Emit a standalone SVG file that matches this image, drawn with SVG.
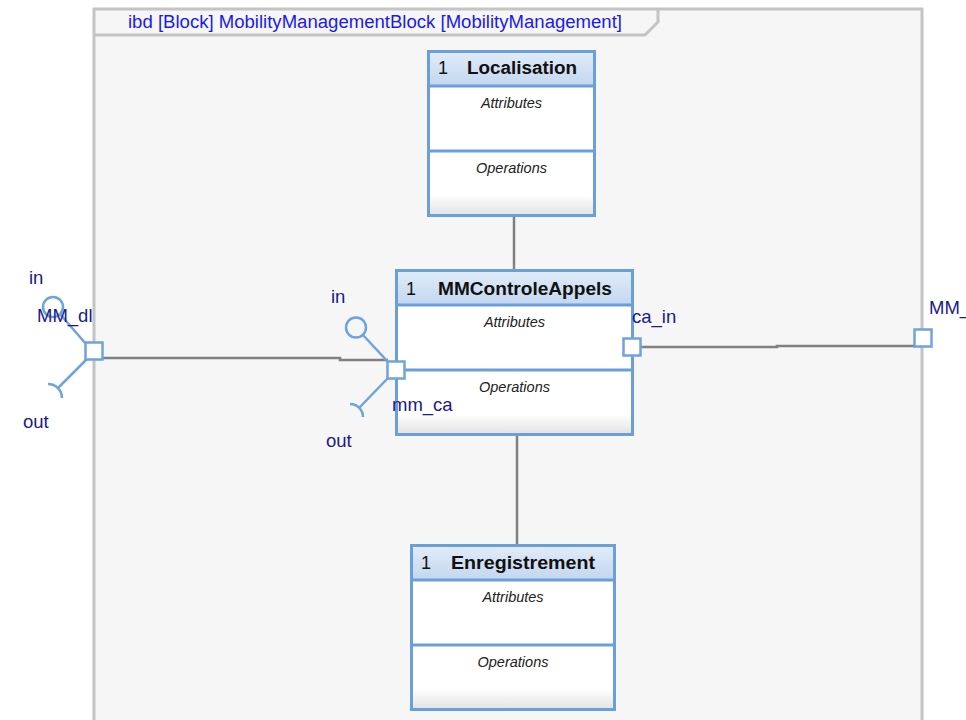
<svg xmlns="http://www.w3.org/2000/svg" width="966" height="720" viewBox="0 0 966 720">
  <style>
    .frame { fill: #f6f6f6; stroke: #c4c4c4; stroke-width: 3; }
    .title { font-family: "Liberation Sans", Arial, sans-serif; font-size: 18px; fill: #1a1aee; }
    .blk { fill: #ffffff; stroke: #6b9fd9; stroke-width: 3; }
    .hdr { fill: url(#hdrGrad); stroke: none; }
    .foot { fill: url(#footGrad); stroke: none; }
    .sep { stroke: #6b9fd9; stroke-width: 3; fill: none; }
    .mult { font-family: "Liberation Sans", Arial, sans-serif; font-size: 18px; fill: #111111; }
    .name { font-family: "Liberation Sans", Arial, sans-serif; font-size: 18px; font-weight: bold; fill: #111111; }
    .comp { font-family: "Liberation Sans", Arial, sans-serif; font-size: 14.5px; font-style: italic; fill: #222222; text-anchor: middle; }
    .port { fill: #ffffff; stroke: #6fa3dc; stroke-width: 2.5; }
    .iface { fill: none; stroke: #6fa3dc; stroke-width: 2.5; }
    .lbl { font-family: "Liberation Sans", Arial, sans-serif; font-size: 18.5px; fill: #1a1a8c; }
    .conn { fill: none; stroke: #808080; stroke-width: 2.5; }
  </style>
  <defs>
    <linearGradient id="hdrGrad" x1="0" y1="0" x2="0" y2="1">
      <stop offset="0" stop-color="#e0ebf8"/>
      <stop offset="1" stop-color="#c2d7ef"/>
    </linearGradient>
    <linearGradient id="footGrad" x1="0" y1="0" x2="0" y2="1">
      <stop offset="0" stop-color="#ffffff"/>
      <stop offset="1" stop-color="#e4e4e4"/>
    </linearGradient>
  </defs>

  <rect width="966" height="720" fill="#ffffff"/>

  <!-- ibd frame -->
  <g id="frame">
    <path class="frame" d="M94 722 V9 H922 V722"/>
    <path fill="none" stroke="#c4c4c4" stroke-width="3" d="M94 35 H645 L658 22 V9"/>
    <text class="title" x="128" y="28" textLength="494" lengthAdjust="spacingAndGlyphs">ibd [Block] MobilityManagementBlock [MobilityManagement]</text>
  </g>

  <!-- connectors -->
  <g id="connectors">
    <path class="conn" d="M103 358 H340 V360 H388"/>
    <path class="conn" d="M641 347 H777 V346 H914"/>
    <path class="conn" d="M514 216 V270"/>
    <path class="conn" d="M517 435 V545"/>
  </g>

  <!-- part: Localisation -->
  <g id="localisation">
    <rect class="blk" x="428.5" y="51.5" width="166" height="164"/>
    <rect class="hdr" x="430" y="53" width="163" height="33"/>
    <rect class="foot" x="430" y="195" width="163" height="19"/>
    <line class="sep" x1="428.5" y1="86" x2="594.5" y2="86"/>
    <line class="sep" x1="428.5" y1="151" x2="594.5" y2="151"/>
    <text class="mult" x="438" y="74">1</text>
    <text class="name" x="467" y="74" textLength="110" lengthAdjust="spacingAndGlyphs">Localisation</text>
    <text class="comp" x="511.5" y="108">Attributes</text>
    <text class="comp" x="511.5" y="173">Operations</text>
  </g>

  <!-- part: MMControleAppels -->
  <g id="mmcontroleappels">
    <rect class="blk" x="396.5" y="270.5" width="236" height="164"/>
    <rect class="hdr" x="398" y="272" width="233" height="33"/>
    <rect class="foot" x="398" y="414" width="233" height="19"/>
    <line class="sep" x1="396.5" y1="305" x2="632.5" y2="305"/>
    <line class="sep" x1="396.5" y1="370" x2="632.5" y2="370"/>
    <text class="mult" x="406" y="295">1</text>
    <text class="name" x="438" y="295" textLength="174" lengthAdjust="spacingAndGlyphs">MMControleAppels</text>
    <text class="comp" x="514.5" y="327">Attributes</text>
    <text class="comp" x="514.5" y="392">Operations</text>
  </g>

  <!-- part: Enregistrement -->
  <g id="enregistrement">
    <rect class="blk" x="411.5" y="545.5" width="203" height="164"/>
    <rect class="hdr" x="413" y="547" width="200" height="33"/>
    <rect class="foot" x="413" y="689" width="200" height="19"/>
    <line class="sep" x1="411.5" y1="580" x2="614.5" y2="580"/>
    <line class="sep" x1="411.5" y1="645" x2="614.5" y2="645"/>
    <text class="mult" x="421" y="569">1</text>
    <text class="name" x="451" y="569" textLength="144" lengthAdjust="spacingAndGlyphs">Enregistrement</text>
    <text class="comp" x="513" y="602">Attributes</text>
    <text class="comp" x="513" y="667">Operations</text>
  </g>

  <!-- port MM_dl on the frame boundary -->
  <g id="port-mm-dl">
    <line class="iface" x1="86" y1="344" x2="60" y2="314"/>
    <circle class="iface" cx="53" cy="307" r="10"/>
    <line class="iface" x1="87" y1="359" x2="58" y2="388"/>
    <path class="iface" d="M48 384 A14 14 0 0 1 62 398"/>
    <rect class="port" x="85.5" y="342.5" width="17" height="17"/>
    <text class="lbl" x="29" y="284">in</text>
    <text class="lbl" x="37" y="322">MM_dl</text>
    <text class="lbl" x="23" y="428">out</text>
  </g>

  <!-- port mm_ca on MMControleAppels -->
  <g id="port-mm-ca">
    <line class="iface" x1="389" y1="363" x2="363" y2="335"/>
    <circle class="iface" cx="356" cy="327.5" r="10"/>
    <line class="iface" x1="389" y1="377" x2="359" y2="408"/>
    <path class="iface" d="M350 404 A13 13 0 0 1 363 417"/>
    <rect class="port" x="387.5" y="361.5" width="17" height="17"/>
    <text class="lbl" x="331" y="303">in</text>
    <text class="lbl" x="392" y="411">mm_ca</text>
    <text class="lbl" x="326" y="447">out</text>
  </g>

  <!-- port ca_in on MMControleAppels -->
  <g id="port-ca-in">
    <rect class="port" x="623.5" y="338.5" width="17" height="17"/>
    <text class="lbl" x="632" y="323">ca_in</text>
  </g>

  <!-- port MM_ on the right frame boundary -->
  <g id="port-mm-right">
    <rect class="port" x="914.5" y="329.5" width="17" height="17"/>
    <text class="lbl" x="929" y="314">MM_</text>
  </g>
</svg>
